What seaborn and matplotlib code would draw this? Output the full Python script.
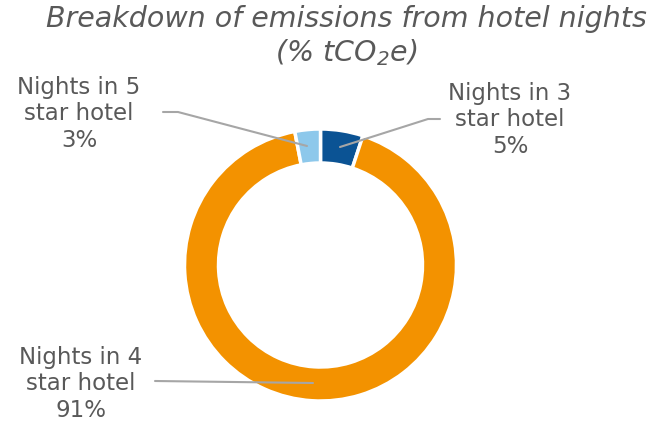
import matplotlib
matplotlib.use("Agg")
import matplotlib.pyplot as plt
import seaborn as sns

categories = ["Nights in 3\nstar hotel", "Nights in 4\nstar hotel", "Nights in 5\nstar hotel"]
shares = [5, 91, 3]
pct_labels = ["5%", "91%", "3%"]
colors = ["#0B5394", "#F39200", "#8DC8EB"]

sns.set_theme(style="white")
plt.rcParams['font.family'] = ['DejaVu Sans']
plt.rcParams['mathtext.fontset'] = 'custom'
plt.rcParams['mathtext.rm'] = 'DejaVu Sans:italic'
plt.rcParams['mathtext.it'] = 'DejaVu Sans:italic'

fig = plt.figure(figsize=(6.66, 4.22), dpi=100)
ax = fig.add_axes([0, 0, 1, 1])

cx, cy, R = 320.5, 265, 136
ax.pie(shares, colors=colors, startangle=-90, counterclock=True,
       center=(cx, cy), radius=R,
       wedgeprops=dict(width=34, edgecolor='white', linewidth=2.5))
ax.set_xlim(0, 666)
ax.set_ylim(422, 0)
ax.set_aspect('equal')
ax.axis('off')

tc = "#595959"
lc = "#A6A6A6"
ax.text(346, 19, "Breakdown of emissions from hotel nights", ha='center', va='center',
        fontsize=20.5, style='italic', color=tc)
ax.text(346, 53, "(% tCO$_2$e)", ha='center', va='center',
        fontsize=20.5, style='italic', color=tc)

fs = 16.5
ax.text(510, 120, categories[0] + "\n" + pct_labels[0], ha='center', va='center',
        fontsize=fs, color=tc, linespacing=1.2)
ax.text(79, 114, categories[2] + "\n" + pct_labels[2], ha='center', va='center',
        fontsize=fs, color=tc, linespacing=1.2)
ax.text(81, 384, categories[1] + "\n" + pct_labels[1], ha='center', va='center',
        fontsize=fs, color=tc, linespacing=1.2)

ax.plot([340, 428, 440], [147, 119, 119], color=lc, lw=1.5)
ax.plot([163, 178, 307], [112, 112, 146], color=lc, lw=1.5)
ax.plot([155, 313], [381, 383], color=lc, lw=1.5)

fig.savefig("out.png", dpi=100)
